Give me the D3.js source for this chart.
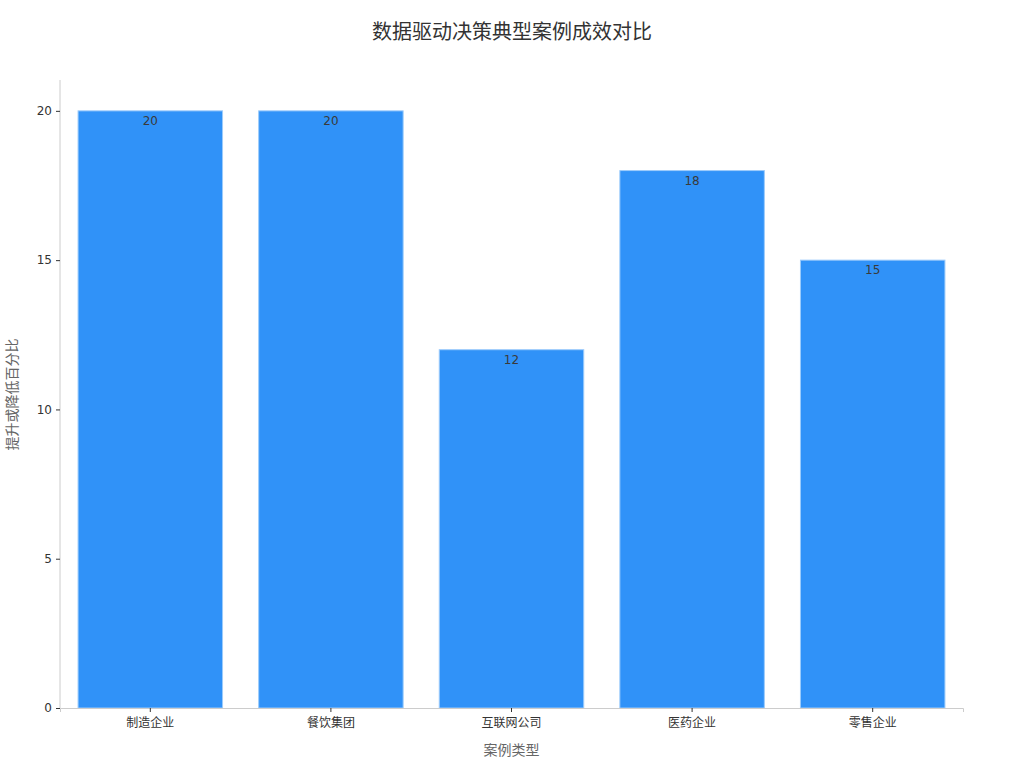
<!DOCTYPE html>
<html>
<head>
<meta charset="utf-8">
<script src="https://cdn.jsdelivr.net/npm/d3@7"></script>
<style>
  body { margin: 0; background: #fff; font-family: "DejaVu Sans", "Noto Sans CJK SC", sans-serif; }
  .tick text { font-size: 12px; fill: #333; font-family: "DejaVu Sans", "Noto Sans CJK SC", sans-serif; }
</style>
</head>
<body>
<div id="chart"></div>
<script>
// data
const categories = ["制造企业", "餐饮集团", "互联网公司", "医药企业", "零售企业"];
const values = [20, 20, 12, 18, 15];
const yTicks = [0, 5, 10, 15, 20];

const W = 1024, H = 768;
const margin = { top: 81, right: 61, bottom: 60, left: 60 };
const width = W - margin.left - margin.right;
const height = H - margin.top - margin.bottom;

const svg = d3.select("#chart").append("svg")
  .attr("width", W).attr("height", H);

const g = svg.append("g")
  .attr("transform", `translate(${margin.left},${margin.top})`);

const x = d3.scaleBand().domain(categories).range([0, width])
  .paddingInner(0.2).paddingOuter(0.1);
const y = d3.scaleLinear().domain([0, 21]).range([height, 0]);

// bars
g.selectAll(".bar")
  .data(categories)
  .enter().append("rect")
  .attr("class", "bar")
  .attr("x", d => x(d))
  .attr("y", (d, i) => y(values[i]))
  .attr("width", x.bandwidth())
  .attr("height", (d, i) => y(0) - y(values[i]))
  .attr("fill", "#3092f8")
  .attr("stroke", "#9ccbfb")
  .attr("stroke-width", 1);

// value labels just inside the bar top
g.selectAll(".bar-label")
  .data(categories)
  .enter().append("text")
  .attr("class", "bar-label")
  .attr("x", d => x(d) + x.bandwidth() / 2)
  .attr("y", (d, i) => y(values[i]) + 14)
  .attr("text-anchor", "middle")
  .style("font-size", "12px")
  .style("fill", "#3a3a3a")
  .text((d, i) => values[i]);

// axes
const xAxis = g.append("g")
  .attr("transform", `translate(0,${height})`)
  .call(d3.axisBottom(x).tickSize(4).tickPadding(6));
xAxis.select(".domain").attr("stroke", "#ccc");
xAxis.selectAll(".tick line").attr("stroke", "#333");

const yAxis = g.append("g")
  .call(d3.axisLeft(y).tickValues(yTicks).tickSize(4).tickPadding(4));
yAxis.select(".domain").attr("stroke", "#ccc").attr("d", `M0,${height}V-1`);
yAxis.selectAll(".tick line").attr("stroke", "#333");

// title
svg.append("text")
  .attr("x", W / 2)
  .attr("y", 39)
  .attr("text-anchor", "middle")
  .style("font-size", "20px")
  .style("fill", "#333")
  .text("数据驱动决策典型案例成效对比");

// axis labels
svg.append("text")
  .attr("x", margin.left + width / 2)
  .attr("y", 755)
  .attr("text-anchor", "middle")
  .style("font-size", "14px")
  .style("fill", "#666")
  .text("案例类型");

svg.append("text")
  .attr("transform", `translate(17,${margin.top + height / 2}) rotate(-90)`)
  .attr("text-anchor", "middle")
  .style("font-size", "14px")
  .style("fill", "#666")
  .text("提升或降低百分比");
</script>
</body>
</html>
